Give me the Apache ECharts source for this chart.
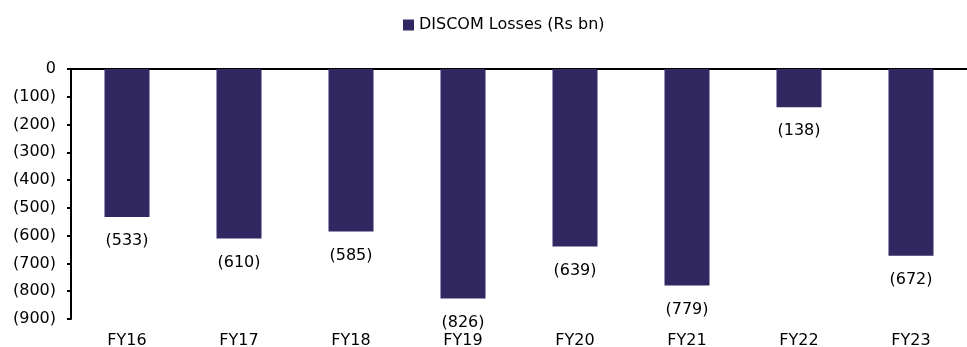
<!DOCTYPE html>
<html>
<head>
<meta charset="utf-8">
<script src="https://cdn.jsdelivr.net/npm/echarts@6/dist/echarts.min.js"></script>
<style>
  html, body { margin: 0; padding: 0; background: #fff; }
  #chart { width: 967px; height: 347px; }
</style>
</head>
<body>
<div id="chart"></div>
<script>
const categories = ["FY16", "FY17", "FY18", "FY19", "FY20", "FY21", "FY22", "FY23"];
const losses = [-533, -610, -585, -826, -639, -779, -138, -672];
const seriesName = "DISCOM Losses (Rs bn)";

const font = "'DejaVu Sans', Verdana, sans-serif";
const fmt = v => (v < 0 ? "(" + Math.abs(v) + ")" : String(v));

let chart = echarts.init(document.getElementById("chart"));
let option = {
  animation: false,
  legend: {
    top: 12,
    left: 398,
    itemWidth: 11,
    itemHeight: 11,
    itemGap: 4,
    icon: "rect",
    textStyle: { fontFamily: font, fontSize: 16, color: "#000" },
    data: [seriesName],
  },
  grid: { left: 71, right: 0, top: 69, bottom: 28, outerBoundsMode: "none" },
  xAxis: [
    {
      // line at zero (top)
      type: "category",
      data: categories,
      position: "top",
      axisLine: { show: true, lineStyle: { color: "#000", width: 2 } },
      axisTick: { show: false },
      axisLabel: { show: false },
    },
    {
      type: "category",
      data: categories,
      position: "bottom",
      axisLine: { show: false },
      axisTick: { show: false },
      axisLabel: { fontFamily: font, fontSize: 16, color: "#000", margin: 14 },
    },
  ],
  yAxis: {
    type: "value",
    min: -900,
    max: 0,
    interval: 100,
    axisLine: { show: true, lineStyle: { color: "#000", width: 2 } },
    axisTick: { show: true, length: 4, lineStyle: { color: "#000", width: 2 } },
    splitLine: { show: false },
    axisLabel: { fontFamily: font, fontSize: 16, color: "#000", margin: 15, formatter: fmt },
  },
  series: [
    {
      name: seriesName,
      type: "bar",
      xAxisIndex: 1,
      data: losses,
      barWidth: 45,
      itemStyle: { color: "#312862" },
      label: {
        show: true,
        position: "bottom",
        distance: 16,
        fontFamily: font,
        fontSize: 16,
        color: "#000",
        formatter: p => fmt(p.value),
      },
    },
  ],
};
chart.setOption(option);
</script>
</body>
</html>
